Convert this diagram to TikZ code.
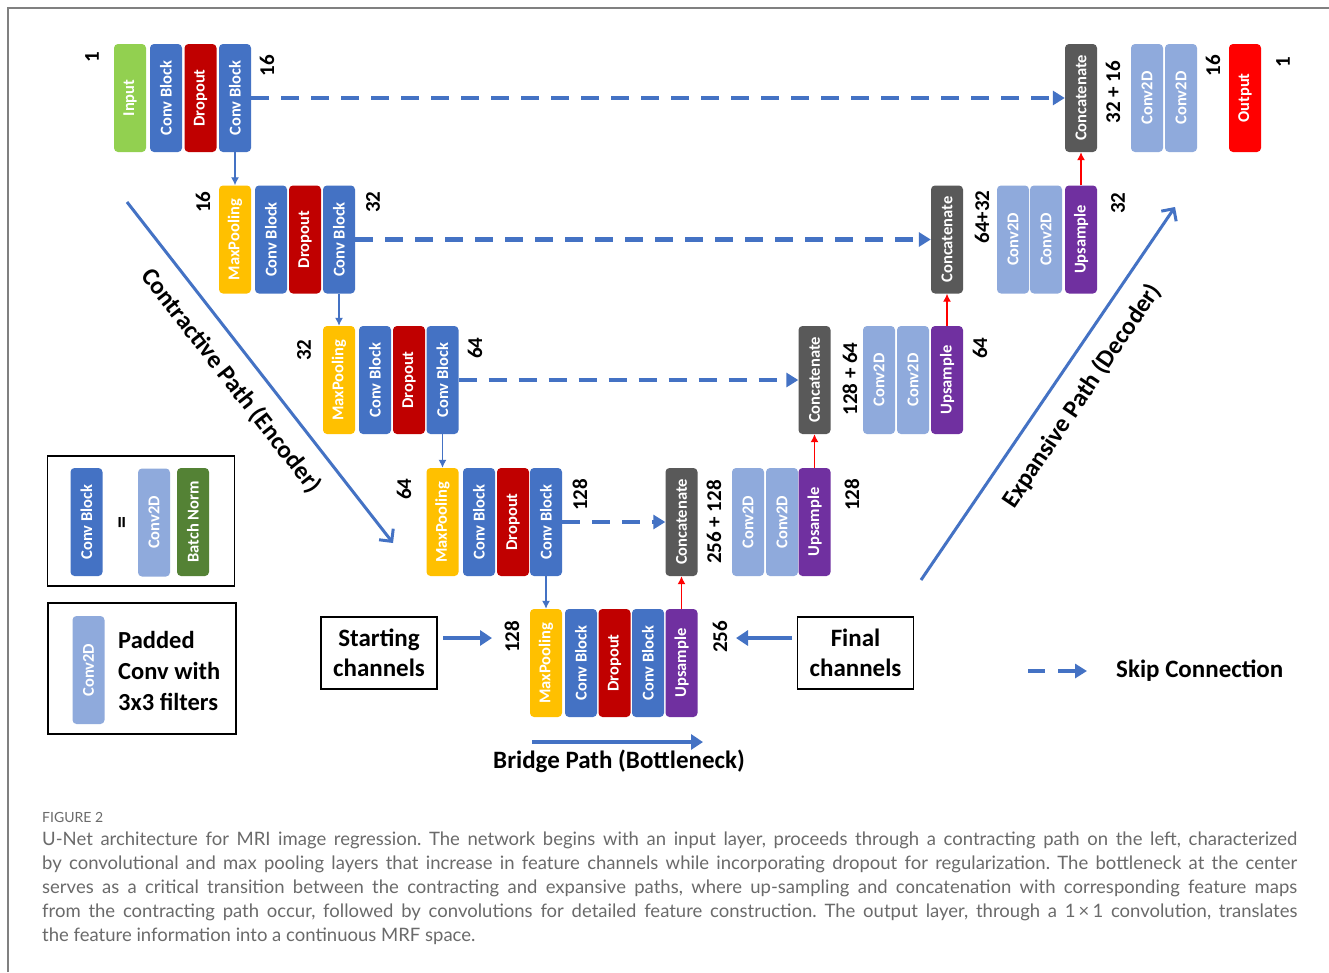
\documentclass[tikz,border=0pt]{standalone}
\usepackage{fontspec}
\setmainfont{Carlito}
\newfontfamily\capfont{Lato}
\usetikzlibrary{arrows.meta}
\definecolor{convb}{HTML}{4472C4}
\definecolor{dropc}{HTML}{C00000}
\definecolor{maxpc}{HTML}{FFC000}
\definecolor{inpc}{HTML}{92D050}
\definecolor{catc}{HTML}{595959}
\definecolor{cdc}{HTML}{8FAADC}
\definecolor{upc}{HTML}{7030A0}
\definecolor{outc}{HTML}{FF0000}
\definecolor{bnc}{HTML}{548235}
\definecolor{arrb}{HTML}{4472C4}
\definecolor{capgray}{HTML}{6A6A6A}
\definecolor{framegray}{HTML}{808080}
\newcommand\blkfont{\fontsize{16.5}{18}\selectfont\bfseries}
\newcommand\numfont{\fontsize{21}{24}\selectfont\bfseries}
\newcommand\lblfont{\fontsize{25}{30}\selectfont\bfseries}
\newcommand\capline[1]{\makebox[1255pt][s]{#1}}
\frenchspacing
\begin{document}
\begin{tikzpicture}[x=1pt,y=-1pt,
  blk/.style={rounded corners=4pt, minimum width=32pt, minimum height=108pt, inner sep=0pt, text=white, font=\blkfont},
  cb/.style={blk, fill=convb},
  dr/.style={blk, fill=dropc},
  mp/.style={blk, fill=maxpc},
  cat/.style={blk, fill=catc},
  cd/.style={blk, fill=cdc},
  up/.style={blk, fill=upc},
  num/.style={font=\numfont, rotate=90, inner sep=0pt},
  down/.style={draw=arrb, line width=1.3pt, -{Latex[length=8pt,width=8pt]}},
  redup/.style={draw=red, line width=1.3pt, -{Latex[length=8pt,width=8pt]}},
  skip/.style={draw=arrb, line width=4.5pt, dash pattern=on 18pt off 12pt, -{Triangle[length=12pt,width=14pt]}},
  thick/.style={draw=arrb, line width=4pt, -{Triangle[length=12pt,width=15pt]}},
  diag/.style={draw=arrb, line width=3pt, -{Straight Barb[length=9pt,width=18pt]}},
  lbl/.style={font=\lblfont, inner sep=0pt},
  box/.style={draw=black, line width=1.2pt},
  capt/.style={font=\capfont\fontsize{18.5}{24}\selectfont\frenchspacing, text=capgray, inner sep=0pt, anchor=west}
]
\useasboundingbox (0,0) rectangle (1329,972);
\fill[white] (0,0) rectangle (1329,972);
\draw[framegray, line width=1.5pt] (8,972) -- (8,8) -- (1329,8);

% ---- Row 1 (left)
\node[blk, fill=inpc] (inp) at (130,98) {\rotatebox{90}{Input}};
\node[cb] (cb1a) at (166,98) {\rotatebox{90}{Conv Block}};
\node[dr] (dr1) at (200.5,98) {\rotatebox{90}{Dropout}};
\node[cb] (cb1b) at (235,98) {\rotatebox{90}{Conv Block}};
% ---- Row 2 (left)
\node[mp] (mp2) at (235,239.5) {\rotatebox{90}{MaxPooling}};
\node[cb] (cb2a) at (271,239.5) {\rotatebox{90}{Conv Block}};
\node[dr] (dr2) at (305,239.5) {\rotatebox{90}{Dropout}};
\node[cb] (cb2b) at (339,239.5) {\rotatebox{90}{Conv Block}};
% ---- Row 3 (left)
\node[mp] (mp3) at (339,380) {\rotatebox{90}{MaxPooling}};
\node[cb] (cb3a) at (375,380) {\rotatebox{90}{Conv Block}};
\node[dr] (dr3) at (409,380) {\rotatebox{90}{Dropout}};
\node[cb] (cb3b) at (442.5,380) {\rotatebox{90}{Conv Block}};
% ---- Row 4 (left)
\node[mp] (mp4) at (442.5,522) {\rotatebox{90}{MaxPooling}};
\node[cb] (cb4a) at (479,522) {\rotatebox{90}{Conv Block}};
\node[dr] (dr4) at (513,522) {\rotatebox{90}{Dropout}};
\node[cb] (cb4b) at (546,522) {\rotatebox{90}{Conv Block}};
% ---- Bridge
\node[mp] (mp5) at (546,663) {\rotatebox{90}{MaxPooling}};
\node[cb] (cb5a) at (581,663) {\rotatebox{90}{Conv Block}};
\node[dr] (dr5) at (614.5,663) {\rotatebox{90}{Dropout}};
\node[cb] (cb5b) at (648,663) {\rotatebox{90}{Conv Block}};
\node[up] (up5) at (681.5,663) {\rotatebox{90}{Upsample}};
% ---- Row 4 (right)
\node[cat] (cat4) at (681.5,522) {\rotatebox{90}{Concatenate}};
\node[cd] (c4a) at (748,522) {\rotatebox{90}{Conv2D}};
\node[cd] (c4b) at (782,522) {\rotatebox{90}{Conv2D}};
\node[up] (up4) at (814.5,522) {\rotatebox{90}{Upsample}};
% ---- Row 3 (right)
\node[cat] (cat3) at (814.5,380) {\rotatebox{90}{Concatenate}};
\node[cd] (c3a) at (879,380) {\rotatebox{90}{Conv2D}};
\node[cd] (c3b) at (913,380) {\rotatebox{90}{Conv2D}};
\node[up] (up3) at (947,380) {\rotatebox{90}{Upsample}};
% ---- Row 2 (right)
\node[cat] (cat2) at (947,239.5) {\rotatebox{90}{Concatenate}};
\node[cd] (c2a) at (1013,239.5) {\rotatebox{90}{Conv2D}};
\node[cd] (c2b) at (1046,239.5) {\rotatebox{90}{Conv2D}};
\node[up] (up2) at (1081,239.5) {\rotatebox{90}{Upsample}};
% ---- Row 1 (right)
\node[cat] (cat1) at (1081,98) {\rotatebox{90}{Concatenate}};
\node[cd] (c1a) at (1147,98) {\rotatebox{90}{Conv2D}};
\node[cd] (c1b) at (1181,98) {\rotatebox{90}{Conv2D}};
\node[blk, fill=outc] (outp) at (1245,98) {\rotatebox{90}{Output}};

% ---- channel numbers
\node[num] (n1) at (92,57) {1};
\node[num] (n2) at (267,66) {16};
\node[num] (n3) at (203,202) {16};
\node[num] (n4) at (373,202) {32};
\node[num] (n5) at (304,350) {32};
\node[num] (n6) at (475,348) {64};
\node[num] (n7) at (404,489) {64};
\node[num] (n8) at (580,495) {128};
\node[num] (n9) at (512,637) {128};
\node[num] (n10) at (720,637) {256};
\node[num] (n11) at (714,522) {256 + 128};
\node[num] (n12) at (852,495) {128};
\node[num] (n13) at (850,379) {128 + 64};
\node[num] (n14) at (980,348) {64};
\node[num] (n15) at (982,217) {64+32};
\node[num] (n16) at (1118,203) {32};
\node[num] (n17) at (1113,92) {32 + 16};
\node[num] (n18) at (1213,66) {16};
\node[num] (n19) at (1283,62) {1};

% ---- down arrows (encoder)
\draw[down] (cb1b.south) -- (mp2.north);
\draw[down] (cb2b.south) -- (mp3.north);
\draw[down] (cb3b.south) -- (mp4.north);
\draw[down] (cb4b.south) -- (mp5.north);
% ---- up arrows (decoder)
\draw[redup] (up5.north) -- (cat4.south);
\draw[redup] (up4.north) -- (cat3.south);
\draw[redup] (up3.north) -- (cat2.south);
\draw[redup] (up2.north) -- (cat1.south);
% ---- skip connections
\draw[skip] (cb1b.east) -- (cat1.west);
\draw[skip] (cb2b.east) -- (cat2.west);
\draw[skip] (cb3b.east) -- (cat3.west);
\draw[skip] (cb4b.east) -- (cat4.west);

% ---- path arrows
\coordinate (ca) at (127,202);
\coordinate (cb) at (393,543);
\draw[diag] (ca) -- (cb);
\node[lbl, rotate=-52] (ctxt) at (231,381) {Contractive Path (Encoder)};
\coordinate (ea) at (921,580);
\coordinate (eb) at (1175,207);
\draw[diag] (ea) -- (eb);
\node[lbl, rotate=56] (etxt) at (1082,396) {Expansive Path (Decoder)};

% ---- starting / final channels
\node[box, minimum width=116pt, minimum height=72pt, align=center, font=\lblfont, inner sep=0pt] (start) at (379,653) {Starting\\channels};
\node[box, minimum width=116pt, minimum height=72pt, align=center, font=\lblfont, inner sep=0pt] (final) at (855.5,653) {Final\\channels};
\coordinate (sa) at (443,638);
\coordinate (sb) at (492,638);
\draw[thick] (sa) -- (sb);
\coordinate (fa) at (792,638);
\coordinate (fb) at (736,638);
\draw[thick] (fa) -- (fb);

% ---- bridge
\coordinate (ba) at (532,742);
\coordinate (bb) at (703,742);
\draw[thick] (ba) -- (bb);
\node[lbl] (btxt) at (619,761) {Bridge Path (Bottleneck)};

% ---- legend 1
\node[box, minimum width=187pt, minimum height=130pt, inner sep=0pt] (leg1) at (141,521) {};
\node[cb] (lcb) at (86.5,522) {\rotatebox{90}{Conv Block}};
\node[font=\fontsize{24}{24}\selectfont\bfseries, rotate=90, inner sep=0pt] (leq) at (124,523) {=};
\node[cd] (lcd) at (154,522.5) {\rotatebox{90}{Conv2D}};
\node[blk, fill=bnc] (lbn) at (193,522) {\rotatebox{90}{Batch Norm}};
% ---- legend 2
\node[box, minimum width=188pt, minimum height=131pt, inner sep=0pt] (leg2) at (142,668.5) {};
\node[cd] (lcd2) at (88.5,670) {\rotatebox{90}{Conv2D}};
\node[font=\fontsize{24.5}{31}\selectfont\bfseries, align=left, anchor=west, inner sep=0pt] (lpad) at (118,671) {Padded\\Conv with\\3x3 filters};

% ---- skip legend
\coordinate (ka) at (1028,671);
\coordinate (kb) at (1087,671);
\draw[skip, dash pattern=on 17pt off 13pt] (ka) -- (kb);
\node[lbl, anchor=west] (ktxt) at (1116,671) {Skip Connection};

% ---- caption
\node[capt, font=\capfont\fontsize{14}{16}\selectfont] (figno) at (42,817) {FIGURE 2};
\node[capt] (cap1) at (42,840) {\capline{U-Net architecture for MRI image regression. The network begins with an input layer, proceeds through a contracting path on the left, characterized}};
\node[capt] (cap2) at (42,864) {\capline{by convolutional and max pooling layers that increase in feature channels while incorporating dropout for regularization. The bottleneck at the center}};
\node[capt] (cap3) at (42,888) {\capline{serves as a critical transition between the contracting and expansive paths, where up-sampling and concatenation with corresponding feature maps}};
\node[capt] (cap4) at (42,912) {\capline{from the contracting path occur, followed by convolutions for detailed feature construction. The output layer, through a 1\,×\,1 convolution, translates}};
\node[capt] (cap5) at (42,936) {the feature information into a continuous MRF space.};
\end{tikzpicture}
\end{document}
